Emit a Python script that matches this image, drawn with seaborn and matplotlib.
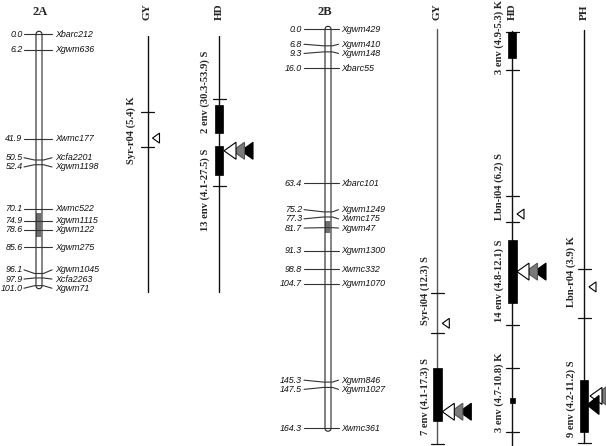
import numpy as np
import pandas as pd
import matplotlib
matplotlib.use("Agg")
import matplotlib.pyplot as plt
import seaborn as sns
from matplotlib.patches import Polygon

# ---------------- data ----------------
chr2A_pos = [0.0, 6.2, 41.9, 50.5, 52.4, 70.1, 74.9, 78.6, 85.6, 96.1, 97.9, 101.0]
chr2A_names = ["Xbarc212", "Xgwm636", "Xwmc177", "Xcfa2201", "Xgwm1198", "Xwmc522",
               "Xgwm1115", "Xgwm122", "Xgwm275", "Xgwm1045", "Xcfa2263", "Xgwm71"]
chr2B_pos = [0.0, 6.8, 9.3, 16.0, 63.4, 75.2, 77.3, 81.7, 91.3, 98.8, 104.7, 145.3, 147.5, 164.3]
chr2B_names = ["Xgwm429", "Xgwm410", "Xgwm148", "Xbarc55", "Xbarc101", "Xgwm1249", "Xwmc175",
               "Xgwm47", "Xgwm1300", "Xwmc332", "Xgwm1070", "Xgwm846", "Xgwm1027", "Xwmc361"]
centromere_2A = [71.7, 81.3]
centromere_2B = [78.8, 83.8]

# QTL tracks
track_chrom = ["2A", "2A", "2B", "2B", "2B"]
track_trait = ["GY", "HD", "GY", "HD", "PH"]
track_start = [0.7, 0.7, 0.0, 0.5, 0.3]
track_end = [103.5, 103.5, 170.8, 171.5, 170.5]

ticks_2A_GY = [31.1, 45.2]
ticks_2A_HD = [26.0, 60.9]
ticks_2B_GY = [108.5, 125.2, 170.8]
ticks_2B_HD = [1.0, 16.8, 68.7, 79.4, 121.8, 139.6, 165.7]
ticks_2B_PH = [98.8, 118.9, 170.5]

qtl_track = [0, 1, 1, 2, 2, 3, 3, 3, 3, 4, 4]
qtl_label = ["Syr-r04 (5.4) K", "2 env (30.3-53.9) S", "13 env (4.1-27.5) S",
             "Syr-i04 (12.3) S", "7 env (4.1-17.3) S",
             "3 env (4.9-5.3) K", "Lbn-i04 (6.2) S", "14 env (4.8-12.1) S", "3 env (4.7-10.8) K",
             "Lbn-r04 (3.9) K", "9 env (4.2-11.2) S"]
qtl_lo = [None, 28.4, 44.9, None, 139.6, 1.0, None, 86.8, 151.9, None, 144.4]
qtl_hi = [None, 39.8, 56.5, None, 161.2, 11.9, None, 112.9, 154.1, None, 165.7]
qtl_peak = [41.7, None, 46.8, 121.1, 157.5, None, 76.1, 99.8, None, 106.1, 151.0]
qtl_kind = ["single", None, "multi", "single", "multi", None, "single", "multi", None, "single", "ph"]

# ---------------- layout (pixels) ----------------
W, H = 606, 446
S = {"2A": 2.489, "2B": 2.428}      # px per cM
Y0 = {"2A": 34.3, "2B": 29.3}       # px of 0 cM
chrom_x = {"2A": 39.0, "2B": 328.0}
num_right = {"2A": 22.5, "2B": 302.0}
tick_l = {"2A": 24.0, "2B": 304.0}
tick_r = {"2A": 52.0, "2B": 338.5}
name_left = {"2A": 55.0, "2B": 341.0}
title_x = {"2A": 40.0, "2B": 325.0}
track_x = [147.5, 219.0, 437.3, 512.0, 584.0]
track_color = ["#111111", "#111111", "#555555", "#111111", "#111111"]
label_dx = [-16, -14, -12, -13, -13]
qtl_label_px = [130, 91.5, 190, 290, 396, 37, 186, 281, 392, 272, 399]
qtl_boxw = [8, 8, 8, 8, 9, 8, 8, 9, 5, 8, 8]

sns.set_theme(style="white")
plt.rcParams["font.family"] = ["Liberation Sans", "DejaVu Sans"]

fig = plt.figure(figsize=(W / 100, H / 100), dpi=100)
axes = {}
for c in ["2A", "2B"]:
    ax = fig.add_axes([0, 0, 1, 1])
    ax.set_xlim(0, W)
    ax.set_ylim((H - Y0[c]) / S[c], -Y0[c] / S[c])
    ax.axis("off")
    ax.patch.set_alpha(0)
    axes[c] = ax


def to_cm(c, px):
    return (px - Y0[c]) / S[c]


def spread(ys, gap):
    clusters = [[i] for i in range(len(ys))]

    def starts():
        return [np.mean([ys[i] for i in cl]) - gap * (len(cl) - 1) / 2 for cl in clusters]

    changed = True
    while changed:
        changed = False
        st = starts()
        for k in range(len(clusters) - 1):
            end_k = st[k] + gap * (len(clusters[k]) - 1)
            if st[k + 1] - end_k < gap - 1e-9:
                clusters[k] = clusters[k] + clusters[k + 1]
                del clusters[k + 1]
                changed = True
                break
    out = [0.0] * len(ys)
    for cl, s0 in zip(clusters, starts()):
        for j, i in enumerate(cl):
            out[i] = s0 + j * gap
    return out


serif = dict(family="Liberation Serif", fontweight="bold")


def draw_chrom(c, pos, names, cen):
    ax = axes[c]
    s = S[c]
    cx = chrom_x[c]
    hw = 3.0
    L = max(pos)
    t = np.linspace(0, np.pi, 30)
    top_x = cx + hw * np.cos(t)
    top_y = 0 - (hw / s) * np.sin(t)
    bot_x = cx - hw * np.cos(t)
    bot_y = L + (hw / s) * np.sin(t)
    ox = np.concatenate([[cx + hw], top_x, [cx - hw], bot_x, [cx + hw]])
    oy = np.concatenate([[L], top_y, [0], bot_y, [L]])
    ax.fill(ox, oy, color="white", zorder=2)
    ax.add_patch(Polygon(np.column_stack([[cx - hw, cx + hw, cx + hw, cx - hw],
                                          [cen[0], cen[0], cen[1], cen[1]]]),
                         closed=True, facecolor="#6e6e6e", edgecolor="none", zorder=3))
    ax.plot(ox, oy, color="#222222", lw=0.8, zorder=4)
    ax.plot([cx + hw, cx + hw], [0, L], color="#8a8a8a", lw=1.1, zorder=4)
    ypx = [Y0[c] + p * s for p in pos]
    lab = spread(ypx, 9.2)
    for p, nm, ly in zip(pos, names, lab):
        lcm = to_cm(c, ly)
        xs = [tick_l[c], cx - hw - 1.5, cx + hw + 1.5, tick_r[c]]
        ys = [lcm, p, p, lcm]
        ax.plot(xs, ys, color="#333333", lw=0.8, zorder=5)
        ax.text(num_right[c], lcm, f"{p:.1f}", ha="right", va="center",
                fontsize=6.4, style="italic", color="#111111")
        ax.text(name_left[c], lcm, nm, ha="left", va="center",
                fontsize=6.4, style="italic", color="#111111")
    ax.text(title_x[c], to_cm(c, 12), c, ha="center", va="center", fontsize=9, **serif)


draw_chrom("2A", chr2A_pos, chr2A_names, centromere_2A)
draw_chrom("2B", chr2B_pos, chr2B_names, centromere_2B)

# track lines with seaborn
for c in ["2A", "2B"]:
    idx = [i for i in range(len(track_chrom)) if track_chrom[i] == c]
    df = pd.DataFrame({
        "x": [track_x[i] for i in idx for _ in range(2)],
        "y": [v for i in idx for v in (track_start[i], track_end[i])],
        "track": [i for i in idx for _ in range(2)],
    })
    for i in idx:
        sub = df[df.track == i]
        sns.lineplot(data=sub, x="x", y="y", estimator=None, sort=False,
                     color=track_color[i], lw=1.0, ax=axes[c], legend=False)
    axes[c].set_xlim(0, W)
    axes[c].set_ylim((H - Y0[c]) / S[c], -Y0[c] / S[c])
    axes[c].axis("off")

# track ticks and titles
track_ticks = [ticks_2A_GY, ticks_2A_HD, ticks_2B_GY, ticks_2B_HD, ticks_2B_PH]
for i in range(len(track_x)):
    c = track_chrom[i]
    ax = axes[c]
    for tv in track_ticks[i]:
        ax.plot([track_x[i] - 6.5, track_x[i] + 6.5], [tv, tv], color="#111111", lw=0.9)
    ax.text(track_x[i], to_cm(c, 12), track_trait[i], rotation=90, ha="center",
            va="center", fontsize=8, **serif)


def tri(ax, c, apex_x, yc, w, h, fc, ec, z):
    s = S[c]
    pts = [(apex_x, yc), (apex_x + w, yc - h / 2 / s), (apex_x + w, yc + h / 2 / s)]
    ax.add_patch(Polygon(pts, closed=True, facecolor=fc, edgecolor=ec, lw=0.8, zorder=z))


for q in range(len(qtl_label)):
    i = qtl_track[q]
    c = track_chrom[i]
    ax = axes[c]
    x = track_x[i]
    if qtl_lo[q] is not None:
        bw = qtl_boxw[q]
        ax.add_patch(Polygon([(x - bw / 2, qtl_lo[q]), (x + bw / 2, qtl_lo[q]),
                              (x + bw / 2, qtl_hi[q]), (x - bw / 2, qtl_hi[q])],
                             closed=True, facecolor="black", edgecolor="black", lw=0.5, zorder=6))
    k = qtl_kind[q]
    if k == "single":
        tri(ax, c, x + 5, qtl_peak[q], 7, 10, "white", "black", 7)
    elif k == "multi":
        tri(ax, c, x + 22, qtl_peak[q], 12, 17, "black", "black", 7)
        tri(ax, c, x + 13.5, qtl_peak[q], 12, 17, "#7a7a7a", "#555555", 8)
        tri(ax, c, x + 5, qtl_peak[q], 12, 17, "white", "black", 9)
    elif k == "ph":
        s = S[c]
        tri(ax, c, x + 6, qtl_peak[q], 12, 17, "white", "black", 7)
        tri(ax, c, x + 11, qtl_peak[q], 11, 18, "#7a7a7a", "#555555", 6)
        tri(ax, c, x + 3, qtl_peak[q] + 9 / s, 12, 19, "black", "black", 8)
    ax.text(x + label_dx[i], to_cm(c, qtl_label_px[q]), qtl_label[q], rotation=90,
            ha="center", va="center", fontsize=7.6, **serif)

fig.savefig("out.png", dpi=100, facecolor="white")
